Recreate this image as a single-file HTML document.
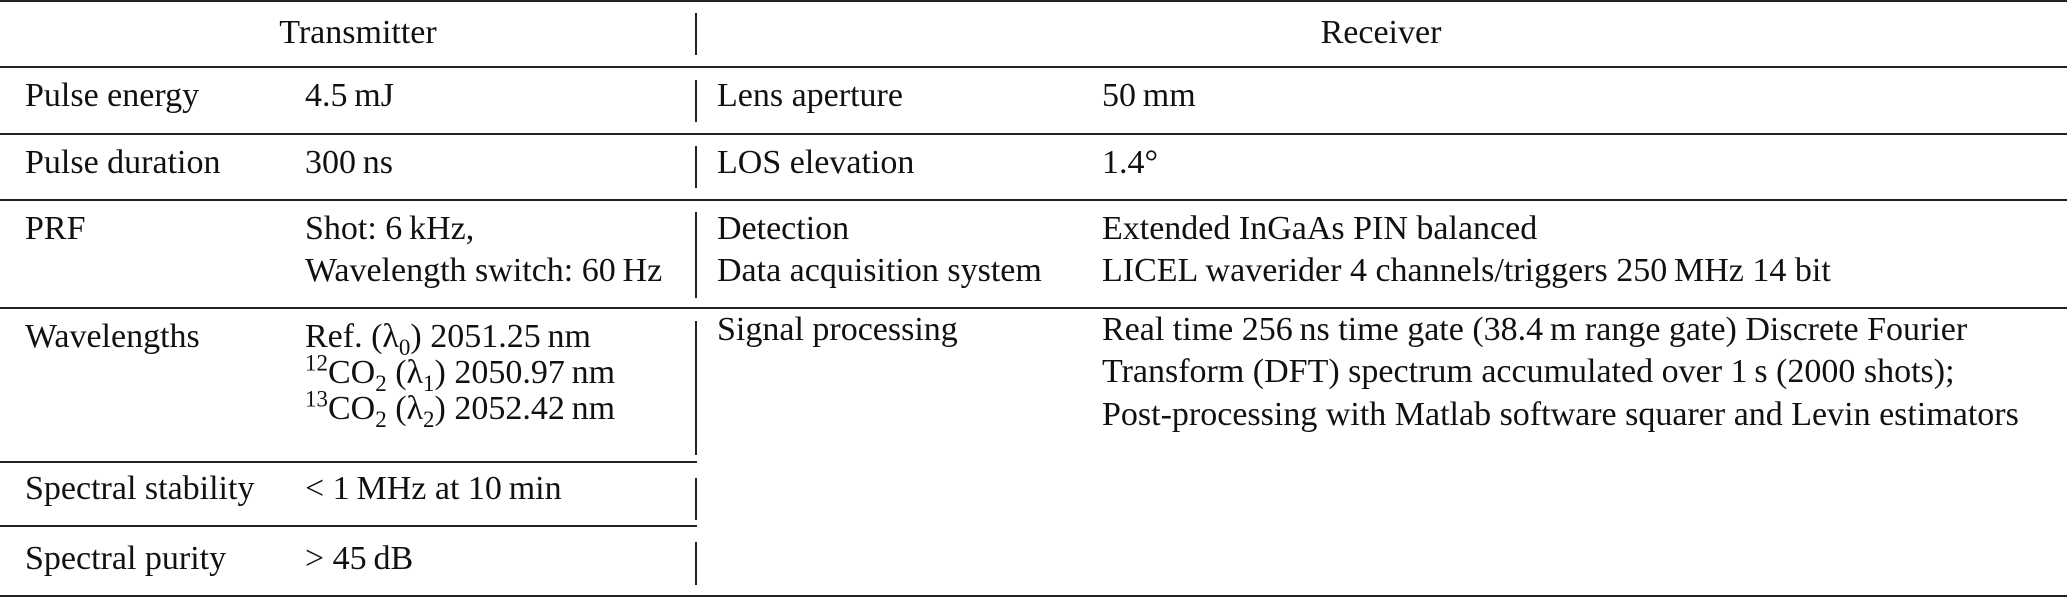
<!DOCTYPE html>
<html><head><meta charset="utf-8"><style>
body{margin:0;width:2067px;height:598px;background:#fff;position:relative;overflow:hidden;font-family:"Liberation Serif","Times New Roman",serif;font-size:34px;color:#111;}
.t{position:absolute;white-space:nowrap;line-height:1;}
.h{position:absolute;height:2px;background:#222;}
.v{position:absolute;width:2px;background:#222;left:695px;}
sub,sup{font-size:23px;line-height:0;}
</style></head><body>
<div class="h" style="left:0;width:2067px;top:0"></div>
<div class="h" style="left:0;width:2067px;top:66px"></div>
<div class="h" style="left:0;width:2067px;top:133px"></div>
<div class="h" style="left:0;width:2067px;top:199px"></div>
<div class="h" style="left:0;width:2067px;top:307px"></div>
<div class="h" style="left:0;width:697px;top:461px"></div>
<div class="h" style="left:0;width:697px;top:525px"></div>
<div class="h" style="left:0;width:2067px;top:595px"></div>

<div class="v" style="top:13px;height:42px"></div>
<div class="v" style="top:80px;height:42px"></div>
<div class="v" style="top:146px;height:42px"></div>
<div class="v" style="top:212px;height:86px"></div>
<div class="v" style="top:321px;height:134px"></div>
<div class="v" style="top:478px;height:42px"></div>
<div class="v" style="top:542px;height:43px"></div>

<div class="t" style="left:358px;top:16px;transform:translateX(-50%)">Transmitter</div>
<div class="t" style="left:1381px;top:16px;transform:translateX(-50%)">Receiver</div>

<div class="t" style="left:25px;top:79px">Pulse energy</div>
<div class="t" style="left:305px;top:79px">4.5&#8201;mJ</div>
<div class="t" style="left:717px;top:79px">Lens aperture</div>
<div class="t" style="left:1102px;top:79px">50&#8201;mm</div>

<div class="t" style="left:25px;top:146px">Pulse duration</div>
<div class="t" style="left:305px;top:146px">300&#8201;ns</div>
<div class="t" style="left:717px;top:146px">LOS elevation</div>
<div class="t" style="left:1102px;top:146px">1.4°</div>

<div class="t" style="left:25px;top:212px">PRF</div>
<div class="t" style="left:305px;top:212px">Shot: 6&#8201;kHz,</div>
<div class="t" style="left:305px;top:254px">Wavelength switch: 60&#8201;Hz</div>
<div class="t" style="left:717px;top:212px">Detection</div>
<div class="t" style="left:717px;top:254px">Data acquisition system</div>
<div class="t" style="left:1102px;top:212px">Extended InGaAs PIN balanced</div>
<div class="t" style="left:1102px;top:254px">LICEL waverider 4 channels/triggers 250&#8201;MHz 14 bit</div>

<div class="t" style="left:25px;top:320px">Wavelengths</div>
<div class="t" style="left:305px;top:320px">Ref. (λ<sub>0</sub>) 2051.25&#8201;nm</div>
<div class="t" style="left:305px;top:356px"><sup>12</sup>CO<sub>2</sub> (λ<sub>1</sub>) 2050.97&#8201;nm</div>
<div class="t" style="left:305px;top:392px"><sup>13</sup>CO<sub>2</sub> (λ<sub>2</sub>) 2052.42&#8201;nm</div>
<div class="t" style="left:717px;top:313px">Signal processing</div>
<div class="t" style="left:1102px;top:313px">Real time 256&#8201;ns time gate (38.4&#8201;m range gate) Discrete Fourier</div>
<div class="t" style="left:1102px;top:355px">Transform (DFT) spectrum accumulated over 1&#8201;s (2000 shots);</div>
<div class="t" style="left:1102px;top:398px">Post-processing with Matlab software squarer and Levin estimators</div>

<div class="t" style="left:25px;top:472px">Spectral stability</div>
<div class="t" style="left:305px;top:472px">&lt; 1&#8201;MHz at 10&#8201;min</div>
<div class="t" style="left:25px;top:542px">Spectral purity</div>
<div class="t" style="left:305px;top:542px">&gt; 45&#8201;dB</div>
</body></html>
